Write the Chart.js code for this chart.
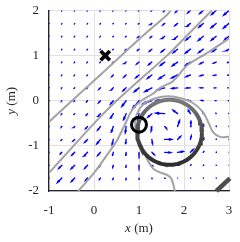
<!DOCTYPE html>
<html>
<head>
<meta charset="utf-8">
<script src="https://cdn.jsdelivr.net/npm/chart.js@4.4.0/dist/chart.umd.min.js"></script>
<style>
  html, body { margin: 0; padding: 0; background: #fff; }
  canvas { display: block; }
</style>
</head>
<body>
<canvas id="grafico" width="240" height="242"></canvas>
<script>
// Ticks de los ejes
const ticksX = [-1, 0, 1, 2, 3];
const ticksY = [-2, -1, 0, 1, 2];

// Malla del campo (columnas y filas)
const mallaX = [-1, -0.714, -0.429, -0.143, 0.143, 0.429, 0.714, 1, 1.286, 1.571, 1.857, 2.143, 2.429, 2.714, 3];
const mallaY = [2, 1.714, 1.429, 1.143, 0.857, 0.571, 0.286, 0, -0.286, -0.571, -0.857, -1.143, -1.429, -1.714, -2];

// Componentes del campo (una fila por cada valor de mallaY)
const campoU = [
  [-0.2,-0.2,-0.2,-0.25,-0.3,-0.3,-0.4,-0.6,-0.9,-1.4,-2.0,-2.7,-3.5,-4.4,-5.3],
  [-0.2,-0.2,-0.2,-0.25,-0.3,-0.4,-0.5,-0.8,-1.3,-1.9,-2.6,-3.4,-4.3,-5.0,-5.4],
  [-0.2,-0.25,-0.3,-0.35,-0.4,-0.5,-0.8,-1.2,-1.8,-2.6,-3.5,-4.4,-5.0,-4.8,-4.2],
  [-0.2,-0.25,-0.3,-0.4,-0.5,-0.7,-1.1,-1.7,-2.4,-3.3,-4.3,-5.0,-4.6,-3.6,-2.8],
  [-0.25,-0.3,-0.35,-0.5,-0.7,-1.0,-1.6,-2.3,-3.2,-4.3,-5.2,-4.8,-3.4,-2.4,-1.6],
  [-0.3,-0.35,-0.5,-0.7,-1.0,-1.5,-2.2,-3.1,-4.4,-5.8,-6.0,-4.6,-3.2,-2.2,-1.4],
  [-0.35,-0.45,-0.7,-1.0,-1.5,-2.2,-3.2,-4.6,-7.0,-7.2,-5.6,-4.2,-3.0,-2.0,-1.3],
  [-0.4,-0.55,-0.8,-1.2,-1.8,-2.7,-4.2,-6.5,-9.0,-8.0,-5.0,-3.0,-1.8,-1.1,-0.7],
  [-0.45,-0.6,-0.9,-1.5,-2.3,-2.8,-2.6,-1.5,-4.0,-9.0,-4.5,-2.2,-0.6,-0.3,-0.2],
  [-0.5,-0.7,-1.1,-1.9,-2.8,-2.0,-0.8,-0.3,-0.6,2.0,2.0,0.5,0.3,0.1,0],
  [-0.7,-1.0,-1.7,-2.8,-3.6,-1.2,-0.4,0,0.6,7.0,3.0,0.8,0.6,0.1,0],
  [-1.2,-1.7,-2.8,-3.5,-2.8,-0.8,-0.2,0,2.5,6.0,5.5,2.8,0.8,0.2,0.1],
  [-2.2,-3.0,-3.4,-2.8,-1.8,-0.6,-0.2,0,1.2,2.2,1.8,0.8,0.3,0.1,0.1],
  [-3.6,-4.4,-3.2,-2.0,-1.2,-0.5,-0.2,0,0.3,0.5,0.4,0.2,0.1,0.1,0.1],
  [-3.5,-3.2,-2.2,-1.4,-0.8,-0.4,-0.1,0,0.2,0.3,0.2,0.1,0.1,0.1,0.1]
];
const campoV = [
  [-0.2,-0.2,-0.2,-0.25,-0.3,-0.3,-0.4,-0.5,-0.8,-1.2,-1.7,-2.3,-3.0,-3.8,-4.6],
  [-0.2,-0.2,-0.2,-0.25,-0.3,-0.4,-0.5,-0.7,-1.1,-1.6,-2.2,-2.9,-3.7,-4.3,-4.6],
  [-0.2,-0.25,-0.3,-0.35,-0.4,-0.5,-0.7,-1.0,-1.5,-2.2,-3.0,-3.7,-4.2,-3.9,-3.2],
  [-0.2,-0.25,-0.3,-0.4,-0.5,-0.7,-1.0,-1.4,-2.0,-2.7,-3.5,-3.9,-3.4,-2.4,-1.7],
  [-0.25,-0.3,-0.35,-0.5,-0.7,-1.0,-1.4,-1.9,-2.6,-3.3,-3.7,-3.0,-1.8,-1.0,-0.6],
  [-0.3,-0.35,-0.5,-0.7,-1.0,-1.5,-2.0,-2.6,-3.4,-3.8,-3.0,-1.8,-0.9,-0.4,-0.2],
  [-0.35,-0.45,-0.7,-1.0,-1.5,-2.2,-3.0,-3.8,-3.8,-1.8,-0.6,-0.2,0,0,0],
  [-0.4,-0.55,-0.8,-1.2,-1.9,-3.2,-5.6,-8.0,-3.0,0.3,0.8,0.6,0.3,0.1,0],
  [-0.45,-0.6,-0.9,-1.6,-2.7,-4.4,-6.2,-6.5,-3.5,0.5,3.5,3.5,1.8,0.6,0.4],
  [-0.5,-0.7,-1.1,-2.0,-3.6,-5.6,-6.2,-5.0,-4.5,-2.0,6.0,5.5,2.2,0.6,0.4],
  [-0.7,-1.0,-1.7,-2.8,-4.4,-5.0,-4.2,-3.6,-4.2,0,3.0,3.5,1.6,0.5,0.3],
  [-1.2,-1.7,-2.8,-3.6,-3.2,-3.0,-3.0,-2.6,-2.5,-0.3,0.8,2.8,1.0,0.3,0.2],
  [-2.2,-3.0,-3.4,-3.0,-2.2,-2.0,-2.0,-1.8,-0.8,-0.2,0.3,0.4,0.2,0.1,0.1],
  [-3.6,-4.4,-3.3,-2.2,-1.5,-1.5,-1.6,-1.4,-0.8,-0.3,0,0.1,0.1,0.1,0],
  [-3.5,-3.2,-2.3,-1.6,-1.1,-1.0,-1.0,-0.9,-0.5,-0.2,0,0,0,0,0]
];

// Curvas de nivel (gris)
const curvaA = [[-1,-0.47],[-0.49,0],[0.29,0.71],[1.02,1.38],[1.62,1.9],[1.7,2]];
const curvaB = [[-1,-1.6],[-0.5,-1.05],[0.06,-0.44],[0.5,0],[1.0,0.45],[1.62,1.0],[2.1,1.48],[2.62,2]];
const curvaC = [[-0.35,-2],[0.0,-1.6],[0.29,-1.2],[0.5,-0.9],[0.7,-0.5],[0.85,-0.2],[1.05,0],[1.3,0.15],[1.5,0.3],[1.76,0.44],[2.07,0.78],[2.5,1.05],[3,1.38]];
const curvaD = [[1.8,-2],[1.69,-1.69],[1.31,-1.5],[1.02,-0.91],[0.92,-0.6],[0.95,-0.3],[1.1,-0.08],[1.35,0.05],[1.65,0.1],[1.95,0.05],[2.2,-0.05],[2.42,-0.25],[2.55,-0.5],[2.65,-0.7],[2.8,-0.8],[3,-0.8]];

// Obstaculo, marcas y segmento
const obstaculoCentro = [1.68, -0.7];
const obstaculoRadio = 0.72;
const marcaCruz = [0.25, 1];
const marcaCirculo = [1.0, -0.53];
const segmento = [[2.72, -2.0], [3.02, -1.72]];

const FUENTE = '"Liberation Serif", "Times New Roman", serif';
const ESCALA_CAMPO = 1 / 45; // unidades de datos por unidad de flecha
const CABEZA_ALFA = 0.33;
const CABEZA_BETA = 0.3;
const CORTE = {x: NaN, y: NaN};

// Armar las flechas del campo como segmentos con cortes
function flechas() {
  const puntos = [];
  mallaY.forEach((y, j) => {
    mallaX.forEach((x, k) => {
      const u = campoU[j][k] * ESCALA_CAMPO;
      const v = campoV[j][k] * ESCALA_CAMPO;
      const px = x + u, py = y + v;
      puntos.push({x: x, y: y}, {x: px, y: py}, CORTE);
      if (Math.hypot(u, v) > 1.5 * ESCALA_CAMPO) {
        puntos.push(
          {x: px - CABEZA_ALFA * (u + CABEZA_BETA * v), y: py - CABEZA_ALFA * (v - CABEZA_BETA * u)},
          {x: px, y: py},
          {x: px - CABEZA_ALFA * (u - CABEZA_BETA * v), y: py - CABEZA_ALFA * (v + CABEZA_BETA * u)},
          CORTE
        );
      }
    });
  });
  return puntos;
}

function aPuntos(lista) {
  return lista.map(p => ({x: p[0], y: p[1]}));
}

function circunferencia(centro, radio) {
  const puntos = [];
  for (let i = 0; i <= 90; i++) {
    const a = (i / 90) * 2 * Math.PI;
    puntos.push({x: centro[0] + radio * Math.cos(a), y: centro[1] + radio * Math.sin(a)});
  }
  return puntos;
}

function colorObstaculo(ctx) {
  const chart = ctx.chart;
  if (!chart.chartArea) return '#444';
  const yArriba = chart.scales.y.getPixelForValue(obstaculoCentro[1] + obstaculoRadio);
  const yAbajo = chart.scales.y.getPixelForValue(obstaculoCentro[1] - obstaculoRadio);
  const g = chart.ctx.createLinearGradient(0, yArriba, 0, yAbajo);
  g.addColorStop(0, '#7a7a7a');
  g.addColorStop(0.5, '#4a4a4a');
  g.addColorStop(1, '#2e2e2e');
  return g;
}

// Titulos de ejes con variable en italica
function dibujarTitulo(ctx, cx, cy, variable, unidad) {
  ctx.font = 'italic 13px ' + FUENTE;
  const w1 = ctx.measureText(variable).width;
  ctx.font = '13px ' + FUENTE;
  const w2 = ctx.measureText(unidad).width;
  const x0 = cx - (w1 + w2) / 2;
  ctx.font = 'italic 13px ' + FUENTE;
  ctx.fillText(variable, x0, cy);
  ctx.font = '13px ' + FUENTE;
  ctx.fillText(unidad, x0 + w1, cy);
}

const titulosEjes = {
  id: 'titulosEjes',
  afterDraw(chart) {
    const {ctx, chartArea} = chart;
    ctx.save();
    ctx.fillStyle = '#262626';
    ctx.textAlign = 'left';
    ctx.textBaseline = 'middle';
    dibujarTitulo(ctx, (chartArea.left + chartArea.right) / 2, chartArea.bottom + 38, 'x', ' (m)');
    ctx.translate(chartArea.left - 37, (chartArea.top + chartArea.bottom) / 2);
    ctx.rotate(-Math.PI / 2);
    dibujarTitulo(ctx, 0, 0, 'y', ' (m)');
    ctx.restore();
  }
};

const config = {
  type: 'scatter',
  data: {
    datasets: [
      {
        label: 'campo',
        data: flechas(),
        showLine: true,
        spanGaps: false,
        borderColor: '#0000ff',
        borderWidth: 1.4,
        borderCapStyle: 'round',
        pointRadius: 0,
        order: 5
      },
      ...[curvaA, curvaB, curvaC, curvaD].map((c, i) => ({
        label: 'nivel' + i,
        data: aPuntos(c),
        showLine: true,
        borderColor: '#a3a3a3',
        borderWidth: 2,
        tension: 0.35,
        pointRadius: 0,
        order: 4
      })),
      {
        label: 'obstaculo',
        data: circunferencia(obstaculoCentro, obstaculoRadio),
        showLine: true,
        borderColor: colorObstaculo,
        borderWidth: 4,
        pointRadius: 0,
        order: 3
      },
      {
        label: 'segmento',
        data: aPuntos(segmento),
        showLine: true,
        borderColor: '#4d4d4d',
        borderWidth: 4.5,
        pointRadius: 0,
        clip: false,
        order: 2
      },
      {
        label: 'inicio',
        data: [{x: marcaCirculo[0], y: marcaCirculo[1]}],
        pointStyle: 'circle',
        pointRadius: 7.5,
        pointBorderWidth: 3,
        pointBorderColor: '#000',
        pointBackgroundColor: 'rgba(0,0,0,0)',
        order: 1
      },
      {
        label: 'meta',
        data: [{x: marcaCruz[0], y: marcaCruz[1]}],
        pointStyle: 'crossRot',
        pointRadius: 6.5,
        pointBorderWidth: 3.8,
        pointBorderColor: '#000',
        order: 0
      }
    ]
  },
  options: {
    responsive: false,
    animation: false,
    devicePixelRatio: 1,
    layout: { padding: { top: 10, right: 11, left: 0, bottom: 0 } },
    plugins: { legend: { display: false }, tooltip: { enabled: false } },
    scales: {
      x: {
        type: 'linear',
        min: -1, max: 3,
        afterBuildTicks: s => { s.ticks = ticksX.map(v => ({value: v})); },
        afterFit: s => { s.height = 51; s.paddingLeft = 0; s.paddingRight = 0; },
        grid: { color: '#e0e0e0', lineWidth: 1, drawTicks: false },
        border: { display: true, color: '#262626', width: 1.3 },
        ticks: { color: '#262626', font: { family: FUENTE, size: 13 }, padding: 12, maxRotation: 0 }
      },
      y: {
        type: 'linear',
        min: -2, max: 2,
        afterBuildTicks: s => { s.ticks = ticksY.map(v => ({value: v})); },
        afterFit: s => { s.width = 49; s.paddingTop = 0; s.paddingBottom = 0; },
        grid: { color: '#e0e0e0', lineWidth: 1, drawTicks: false },
        border: { display: true, color: '#262626', width: 1.3 },
        ticks: { color: '#262626', font: { family: FUENTE, size: 13 }, padding: 10 }
      }
    }
  },
  plugins: [titulosEjes]
};

const grafico = new Chart(document.getElementById('grafico'), config);
</script>
</body>
</html>
